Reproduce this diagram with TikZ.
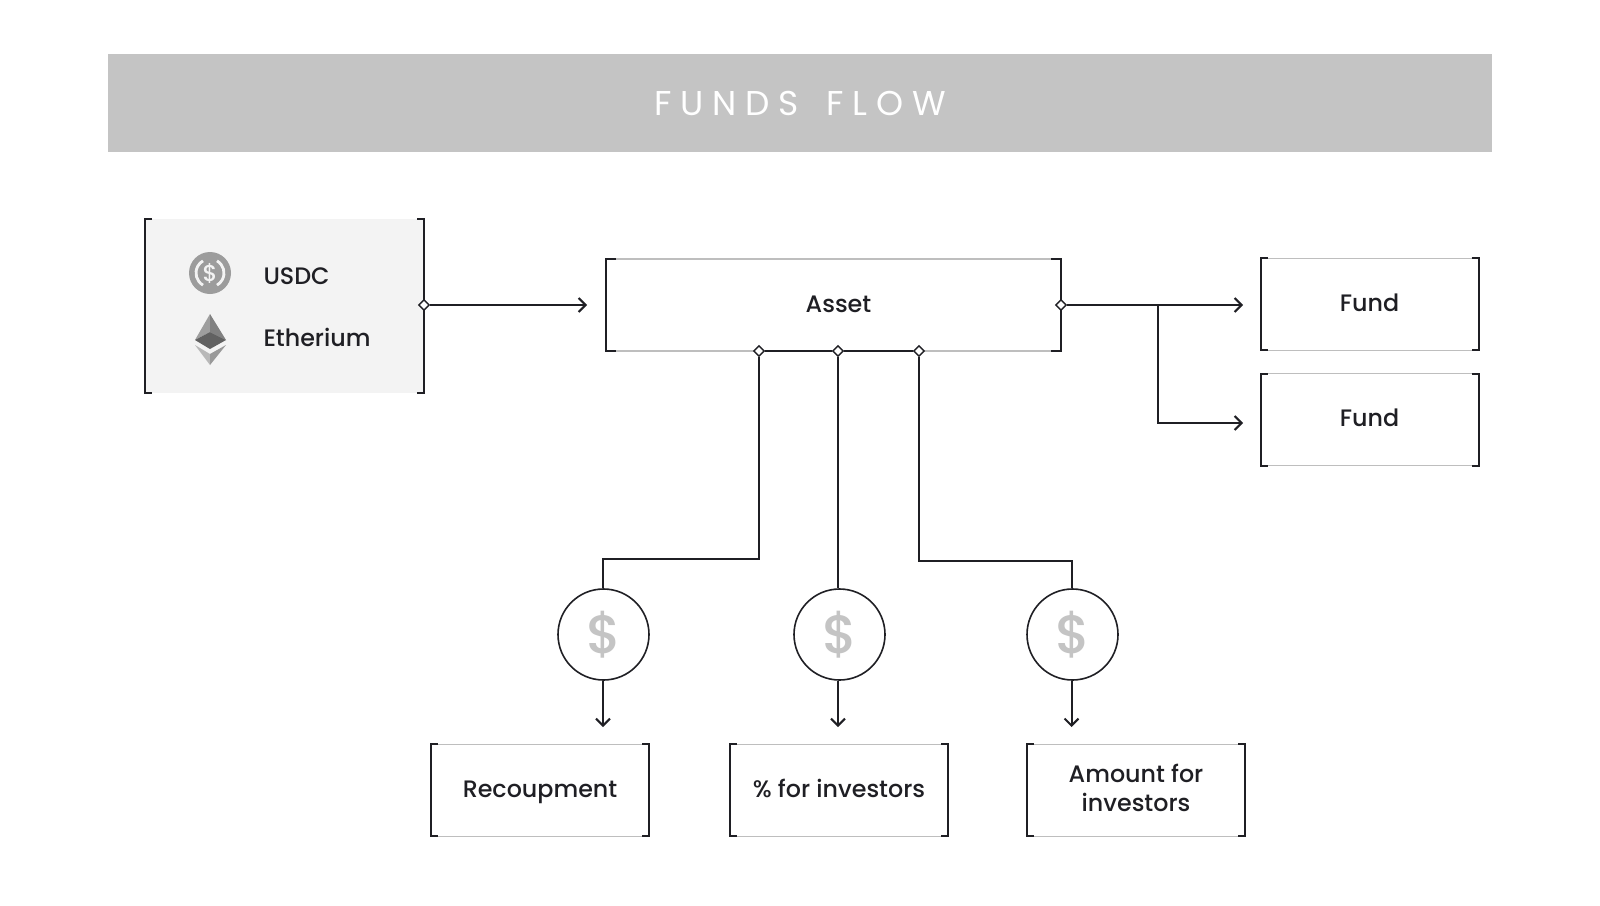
\documentclass[tikz,border=0pt]{standalone}
\usepackage{fontspec}
\usepackage{tikz}
\usetikzlibrary{arrows.meta, shapes.geometric}
\setmainfont{Poppins Medium}
\newfontfamily\headfont[LetterSpace=26,WordSpace=1.5]{Poppins}
\definecolor{ink}{HTML}{1F1F24}
\definecolor{rule}{HTML}{BEBEBE}
\definecolor{band}{HTML}{C4C4C4}
\definecolor{paper}{HTML}{F3F3F3}
\newcommand{\brackets}[2][3.5pt]{
  \draw[bracket] ([xshift=#1]#2.north west) -- (#2.north west) -- (#2.south west) -- ([xshift=#1]#2.south west);
  \draw[bracket] ([xshift=-#1]#2.north east) -- (#2.north east) -- (#2.south east) -- ([xshift=-#1]#2.south east);
}
\tikzstyle{bracket}=[ink, line width=1pt]
\tikzstyle{wire}=[ink, line width=1pt]
\tikzstyle{arrow}=[wire, -{Straight Barb[length=3.5pt, width=7pt]}]
\tikzstyle{no1}=[draw=rule, line width=.8pt, outer sep=0, align=center, text=ink, font=\fontsize{11.9}{15.3}\selectfont]
\tikzstyle{small}=[no1, line width=.5pt, minimum width=109pt, minimum height=46pt]
\tikzstyle{single}=[small, text height=10pt, text depth=3pt]
\tikzstyle{joint}=[diamond, draw=ink, fill=white, line width=.7pt, inner sep=0, minimum size=5.5pt]
\tikzstyle{coin}=[circle, draw=ink, fill=white, line width=.8pt, inner sep=0, minimum size=45.5pt, text=band, font=\fontsize{27}{27}\selectfont]

\begin{document}
\begin{tikzpicture}[x=.5pt, y=-.5pt]
  \useasboundingbox (0,0) rectangle (1600,905);
  \node[fill=band, minimum width=692pt, minimum height=49pt, inner sep=0, text=white, font=\fontsize{17.2}{20}\headfont] (title) at (800,103) {FUNDS FLOW};

  % sources
  \node[fill=paper, outer sep=0, minimum width=139.5pt, minimum height=87pt] (source) at (284.5,306) {};
  \node[circle, fill=black!39, inner sep=0, minimum size=21pt, text=paper, font=\fontsize{11.5}{12}\selectfont] (usdc) at (210,273) {\$};
  \draw[paper, line width=1.4pt] (210,273) ++(-60:14) arc (-60:60:14);
  \draw[paper, line width=1.4pt] (210,273) ++(120:14) arc (120:240:14);
  \node[anchor=base west, no1, draw=none, inner sep=0] (usdctext) at (263.5,284) {USDC};
  \fill[black!38] (210,314) -- (195,340) -- (210,332) -- cycle;
  \fill[black!50] (210,314) -- (226,340) -- (210,332) -- cycle;
  \fill[black!62] (195,340) -- (210,332) -- (226,340) -- (210,349) -- cycle;
  \fill[black!28] (195,345) -- (210,354) -- (210,365) -- cycle;
  \fill[black!40] (226,345) -- (210,354) -- (210,365) -- cycle;
  \node[anchor=base west, no1, draw=none, inner sep=0] (ethtext) at (263.5,346) {Etherium};
  \brackets{source}

  % boxes
  \node[no1, minimum width=227.5pt, minimum height=46pt, text height=10pt, text depth=3pt] (asset) at (833.5,305) {\hspace{5pt}Asset};
  \node[single] (fund1) at (1369.5,304) {Fund};
  \node[single] (fund2) at (1369.5,419.5) {Fund};
  \node[single] (recoup) at (540,790) {Recoupment};
  \node[single] (percent) at (839,790) {\% for investors};
  \node[small] (amount) at (1136,790) {\raisebox{2pt}{\shortstack{Amount for\\[2pt]investors}}};
  \brackets[5pt]{asset}
  \foreach \name in {fund1, fund2, recoup, percent, amount} {\brackets{\name}}

  \node[coin] (coin1) at (603.5,634.5) {\hspace{1pt}\$};
  \node[coin] (coin2) at (839.5,634.5) {\hspace{1pt}\$};
  \node[coin] (coin3) at (1072.5,634.5) {\hspace{1pt}\$};

  \node[joint] (outsrc) at (424,305) {};
  \node[joint] (outasset) at (1061,305) {};
  \node[joint] (drop1) at (759,351) {};
  \node[joint] (drop2) at (838,351) {};
  \node[joint] (drop3) at (919,351) {};

  \coordinate (inasset) at (587,305);
  \coordinate (branch) at (1158,305);
  \coordinate (infund1) at (1243,305);
  \coordinate (infund2) at (1243,423);
  \coordinate (kink1) at (603,559);
  \coordinate (kink3) at (1071.5,561);
  \coordinate (inrecoup) at (603,727);
  \coordinate (inpercent) at (838,727);
  \coordinate (inamount) at (1071.5,727);

  \draw[arrow] (outsrc) -- (inasset);
  \draw[arrow] (outasset) -- (infund1);
  \draw[arrow] (branch) |- (infund2);
  \draw[wire] (drop1) -- (drop2);
  \draw[wire] (drop2) -- (drop3);
  \draw[wire] (drop1) |- (kink1) -- (kink1 |- coin1.north);
  \draw[wire] (drop2) -- (drop2 |- coin2.north);
  \draw[wire] (drop3) |- (kink3) -- (kink3 |- coin3.north);
  \draw[arrow] (inrecoup |- coin1.south) -- (inrecoup);
  \draw[arrow] (inpercent |- coin2.south) -- (inpercent);
  \draw[arrow] (inamount |- coin3.south) -- (inamount);
\end{tikzpicture}
\end{document}
